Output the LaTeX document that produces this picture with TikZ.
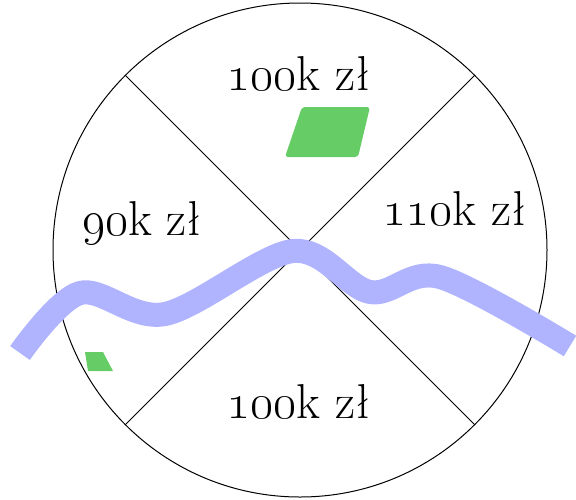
\documentclass[tikz,border=0pt]{standalone}
\usepackage{fix-cm}
\definecolor{river}{RGB}{176,180,255}
\definecolor{field}{RGB}{102,204,102}
\tikzset{
  lbl/.style={anchor=base, inner sep=0pt, font=\fontsize{49}{52}\selectfont},
  rim/.style={draw=black, line width=1pt},
  riverline/.style={draw=river, line width=24pt, line cap=butt, line join=round},
  plot/.style={fill=field, rounded corners=3pt}
}
\begin{document}
\begin{tikzpicture}[x=1pt,y=-1pt]
\useasboundingbox (0,0) rectangle (576,499);
\coordinate (c) at (300,250);
\draw[rim] (c) circle (247);
\coordinate (tl) at (125.3,75.3);
\coordinate (br) at (474.7,424.7);
\coordinate (tr) at (474.7,75.3);
\coordinate (bl) at (125.3,424.7);
\draw[rim] (tl) -- (br);
\draw[rim] (tr) -- (bl);
\node[lbl] (t) at (299,90) {\oldstylenums{100}k zł};
\node[lbl] (l) at (142,235) {\oldstylenums{90}k zł};
\node[lbl] (r) at (455,225) {\oldstylenums{110}k zł};
\node[lbl] (b) at (299,418) {\oldstylenums{100}k zł};
\draw[riverline] plot[smooth, tension=0.55] coordinates {(20,353) (80,293) (165,314) (293,251) (370,292) (440,277) (570,346)};
\fill[plot] (285,157) -- (302,107) -- (370,107) -- (358,157) -- cycle;
\fill[field] (85,352) -- (103,352) -- (113,371) -- (88,371) -- cycle;
\end{tikzpicture}
\end{document}
